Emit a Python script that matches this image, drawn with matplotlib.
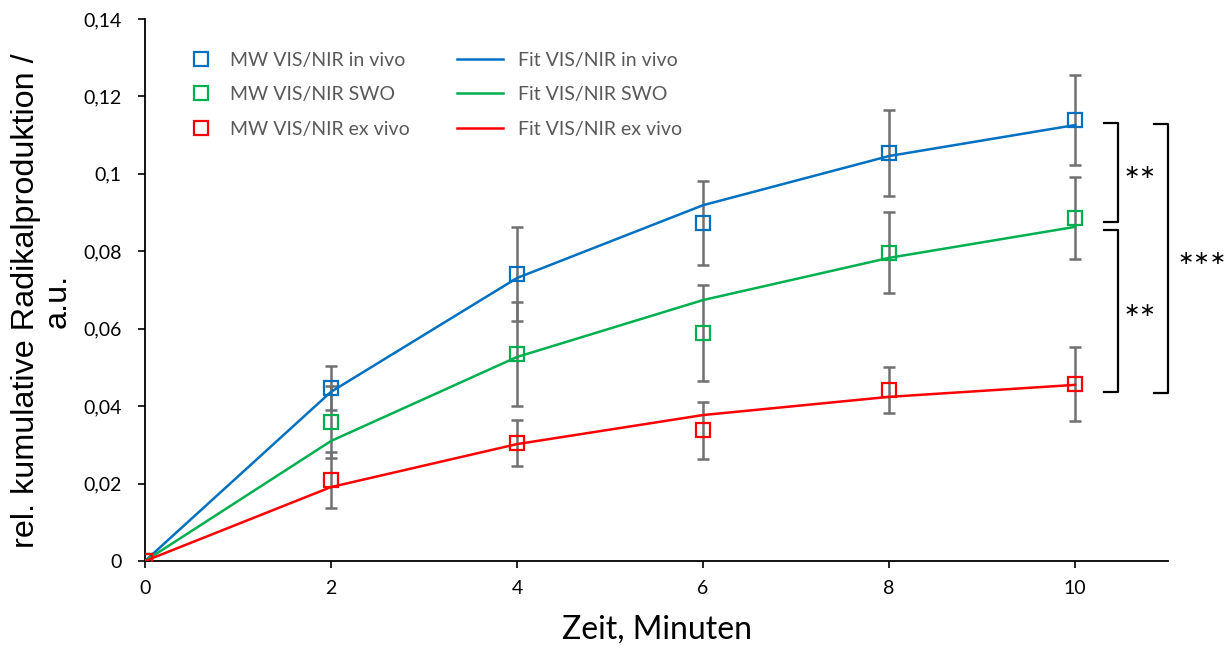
import numpy as np
import matplotlib.pyplot as plt
from matplotlib.lines import Line2D

# Messwerte (Mittelwerte) und Standardabweichungen
zeit = [0, 2, 4, 6, 8, 10]

mw_in_vivo = [0, 0.0447, 0.0741, 0.0873, 0.1054, 0.1139]
sd_in_vivo = [0, 0.0057, 0.0122, 0.0108, 0.0110, 0.0117]
fit_in_vivo = [0, 0.0437, 0.0731, 0.0919, 0.1046, 0.1126]

mw_swo = [0, 0.0359, 0.0535, 0.0589, 0.0796, 0.0886]
sd_swo = [0, 0.0093, 0.0134, 0.0124, 0.0105, 0.0106]
fit_swo = [0, 0.0310, 0.0527, 0.0674, 0.0783, 0.0863]

mw_ex_vivo = [0, 0.0209, 0.0305, 0.0338, 0.0442, 0.0457]
sd_ex_vivo = [0, 0.0072, 0.0060, 0.0074, 0.0060, 0.0095]
fit_ex_vivo = [0, 0.0191, 0.0302, 0.0377, 0.0424, 0.0455]

y_ticks = [0, 0.02, 0.04, 0.06, 0.08, 0.1, 0.12, 0.14]
y_labels = ['0', '0,02', '0,04', '0,06', '0,08', '0,1', '0,12', '0,14']

# Signifikanz-Klammern: (y_oben, y_unten, x_links, x_rechts, text, x_text)
klammern = [(0.1131, 0.0876, 10.31, 10.46, '∗∗', 10.70),
            (0.0855, 0.0437, 10.31, 10.46, '∗∗', 10.70),
            (0.1129, 0.0434, 10.85, 11.0, '∗∗∗', 11.37)]

blau = '#0070C0'
gruen = '#00B050'
rot = '#FF0000'
grau = '#707070'

fig = plt.figure(figsize=(12.3, 6.5), dpi=100)
ax = fig.add_axes([0.1179, 0.1369, 0.8317, 0.8339])

serien = [(mw_in_vivo, sd_in_vivo, fit_in_vivo, blau),
          (mw_swo, sd_swo, fit_swo, gruen),
          (mw_ex_vivo, sd_ex_vivo, fit_ex_vivo, rot)]

for mw, sd, fit, farbe in serien:
    ax.errorbar(zeit, mw, yerr=sd, fmt='none', ecolor=grau, elinewidth=1.8,
                capsize=4.5, capthick=1.8, zorder=2)
for mw, sd, fit, farbe in serien:
    ax.plot(zeit, fit, color=farbe, lw=1.8, zorder=3)
for mw, sd, fit, farbe in serien:
    ax.plot(zeit, mw, ls='none', marker='s', ms=10, mfc='none', mec=farbe,
            mew=1.6, zorder=4)

for y1, y2, xl, xr, txt, xt in klammern:
    ax.plot([xl, xr, xr, xl], [y1, y1, y2, y2], color='black', lw=1.6,
            clip_on=False, zorder=5)
    ax.text(xt, (y1 + y2) / 2, txt, ha='center', va='center', fontsize=14,
            family='DejaVu Sans', clip_on=False)

ax.set_xlim(0, 11.0)
ax.set_ylim(0, 0.14)
ax.set_xticks([0, 2, 4, 6, 8, 10])
ax.set_yticks(y_ticks)
ax.set_yticklabels(y_labels)
ax.tick_params(labelsize=14, length=5, width=1.2, direction='out')
ax.tick_params(axis='y', pad=12)
ax.tick_params(axis='x', pad=9)
for lab in ax.get_xticklabels() + ax.get_yticklabels():
    lab.set_family('Lato')
ax.spines['top'].set_visible(False)
ax.spines['right'].set_visible(False)
ax.spines['left'].set_linewidth(1.3)
ax.spines['bottom'].set_linewidth(1.3)

ax.set_xlabel('Zeit, Minuten', fontsize=23, family='Lato', labelpad=12)
ax.set_ylabel('rel. kumulative Radikalproduktion /\na.u.', fontsize=23.3,
              family='Liberation Sans', linespacing=1.05)
ax.yaxis.label.set_verticalalignment('center')
ax.yaxis.set_label_coords(-0.101, 0.48)

mw_handles = [Line2D([], [], ls='none', marker='s', ms=10, mfc='none', mec=f, mew=1.6)
              for f in (blau, gruen, rot)]
fit_handles = [Line2D([], [], color=f, lw=1.8) for f in (blau, gruen, rot)]
mw_labels = ['MW VIS/NIR in vivo', 'MW VIS/NIR SWO', 'MW VIS/NIR ex vivo']
fit_labels = ['Fit VIS/NIR in vivo', 'Fit VIS/NIR SWO', 'Fit VIS/NIR ex vivo']

leg1 = ax.legend(mw_handles, mw_labels, loc='upper left',
                 bbox_to_anchor=(0.045, 0.94), frameon=False,
                 prop={'family': 'Lato', 'size': 14}, labelcolor='#595959',
                 handlelength=1.0, handletextpad=1.0, labelspacing=0.9,
                 borderpad=0, borderaxespad=0)
ax.add_artist(leg1)
ax.legend(fit_handles, fit_labels, loc='upper left',
          bbox_to_anchor=(0.305, 0.94), frameon=False,
          prop={'family': 'Lato', 'size': 14}, labelcolor='#595959',
          handlelength=2.37, handletextpad=0.77, labelspacing=0.9,
          borderpad=0, borderaxespad=0)

fig.savefig('out.png')
